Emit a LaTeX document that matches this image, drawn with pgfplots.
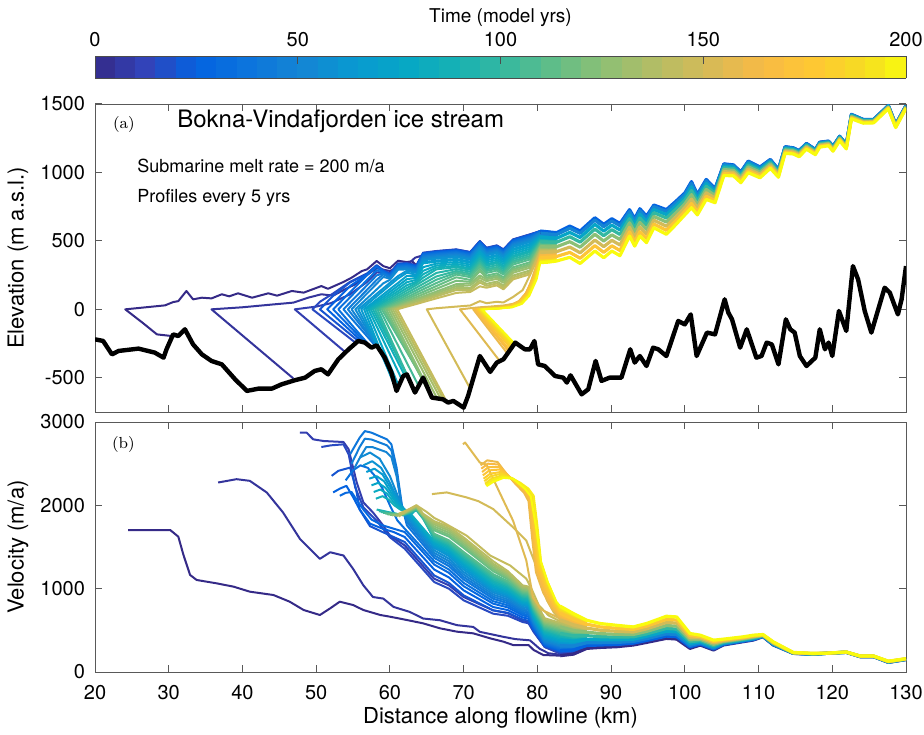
\documentclass[border=0pt]{standalone}
\usepackage{fontspec}
\setsansfont{TeX Gyre Heros}
\renewcommand{\familydefault}{\sfdefault}
\usepackage{pgfplots}
\usepackage{pgfplotstable}
\pgfplotsset{compat=1.18}
\pgfplotsset{colormap={mparula}{rgb(0pt)=(0.2081,0.1663,0.5292) rgb(4pt)=(0.1959,0.2645,0.7279) rgb(8pt)=(0.0117,0.3875,0.8820) rgb(12pt)=(0.0498,0.4586,0.8641) rgb(16pt)=(0.0793,0.5200,0.8312) rgb(20pt)=(0.0343,0.5966,0.8199) rgb(24pt)=(0.0228,0.6535,0.7768) rgb(28pt)=(0.0843,0.6928,0.7062) rgb(32pt)=(0.2178,0.7250,0.6193) rgb(36pt)=(0.3953,0.7459,0.5244) rgb(40pt)=(0.5709,0.7485,0.4494) rgb(44pt)=(0.7184,0.7411,0.3905) rgb(48pt)=(0.8507,0.7299,0.3360) rgb(52pt)=(0.9739,0.7314,0.2666) rgb(56pt)=(0.9955,0.7861,0.1967) rgb(60pt)=(0.9626,0.8705,0.1309) rgb(63pt)=(0.9763,0.9831,0.0538)}}
\newcommand{\pe}[2]{\addplot[color of colormap={#1}, line width=1pt, line join=round] coordinates {#2};}
\newcommand{\pb}[2]{\addplot[color of colormap={#1}, line width=1.6pt, line join=round] table[x=x,y=#2]}

\pgfplotstableread{
x a0 a25 a50 a75 a100 a125 a150 a175 a200
80.4 560 572 556 526 493 457 417 378 341
81.5 555 566 551 522 491 456 418 380 345
82.6 550 560 546 519 490 457 421 386 353
84.4 597 608 592 562 530 494 455 416 380
85.8 560 572 555 525 491 454 413 373 335
87.8 657 669 652 620 586 548 506 465 426
89.0 609 621 604 572 538 499 458 416 377
90.1 650 662 645 615 582 544 504 464 426
91.2 615 627 611 580 547 510 470 430 392
92.5 718 728 714 689 662 632 599 566 535
93.2 653 663 649 623 595 563 528 494 462
93.9 725 735 721 695 667 635 601 567 535
94.8 671 681 667 642 615 584 551 518 487
95.8 754 762 750 729 706 679 651 623 596
97.5 719 728 715 692 667 638 607 577 548
98.8 782 790 778 756 732 705 676 647 620
100.0 842 850 839 818 796 770 743 716 690
100.9 923 933 920 895 868 838 805 773 742
101.7 833 840 830 810 789 765 740 714 690
102.9 942 949 939 920 899 876 851 826 803
104.1 877 882 875 861 847 831 813 795 779
105.3 1059 1063 1057 1046 1034 1021 1006 992 978
106.6 1051 1055 1049 1039 1028 1015 1001 988 975
107.6 1000 1004 998 988 977 965 951 938 925
108.6 1079 1083 1077 1066 1054 1041 1026 1012 998
110.2 1036 1040 1034 1024 1013 1001 987 974 961
111.6 1092 1095 1090 1082 1073 1063 1051 1040 1030
112.7 1019 1022 1018 1011 1003 994 984 974 965
113.6 1186 1188 1185 1178 1172 1164 1156 1148 1140
114.7 1178 1180 1177 1171 1165 1158 1150 1142 1135
115.5 1158 1160 1157 1151 1145 1138 1130 1122 1115
116.5 1210 1212 1209 1204 1198 1191 1184 1177 1170
117.7 1166 1168 1165 1160 1155 1149 1143 1136 1130
118.3 1219 1221 1218 1214 1209 1203 1197 1191 1185
119.5 1227 1229 1227 1222 1217 1212 1206 1200 1195
120.1 1190 1192 1189 1185 1179 1174 1167 1161 1155
121.0 1263 1265 1263 1258 1254 1249 1243 1237 1232
121.9 1203 1205 1203 1198 1194 1189 1183 1177 1172
122.6 1422 1424 1422 1418 1413 1408 1403 1397 1392
124.2 1386 1387 1385 1382 1378 1374 1369 1364 1360
125.6 1386 1387 1385 1382 1379 1375 1370 1366 1362
127.6 1488 1489 1487 1484 1481 1477 1473 1469 1465
128.6 1350 1351 1349 1346 1343 1340 1336 1332 1328
130.0 1488 1489 1488 1485 1482 1479 1475 1471 1468
}\elevband

\pgfplotstableread{
x v0 v25 v50 v75 v100 v125 v150 v175 v200
83.1 196 255 315 386 463 541 624 707 790
84.9 215 264 312 371 434 497 565 633 701
86.7 284 318 351 392 436 479 527 574 621
88.5 295 324 352 387 424 461 502 542 582
90.8 304 330 355 386 419 452 488 524 560
93.0 324 346 367 393 422 450 480 511 541
94.8 355 378 400 428 457 487 518 550 582
97.5 404 431 457 489 523 558 595 632 669
98.9 396 423 449 481 515 550 587 624 661
100.7 284 302 320 341 364 387 412 437 462
102.1 324 336 348 362 377 392 409 425 442
103.9 264 276 288 302 317 332 349 365 382
105.2 324 331 338 346 356 365 374 384 394
107.9 364 370 376 383 390 398 406 414 422
109.3 384 390 396 403 410 418 426 434 442
110.6 424 427 429 432 436 439 443 446 450
112.0 324 328 332 336 341 346 351 357 362
114.7 224 225 226 228 229 230 232 233 235
117.4 212 213 214 216 217 219 221 222 224
119.2 224 224 224 225 225 225 225 226 226
121.9 236 236 237 237 238 238 239 239 240
123.8 184 185 186 187 188 189 190 191 192
125.6 184 185 186 187 188 189 190 191 192
127.6 116 117 119 120 122 124 126 128 130
130.0 150 151 152 153 155 156 157 159 160
}\velband

\pgfplotsset{myax/.style={scale only axis, width=405.5pt, xmin=20, xmax=130,
  xtick={20,30,...,130}, tick align=inside, major tick length=3.5pt,
  axis line style={black!65}, every tick/.style={black!65, line width=0.5pt},
  tick label style={font=\fontsize{10}{12}\selectfont},
  label style={font=\fontsize{11}{13}\selectfont},
  /pgf/number format/assume math mode=true, /pgf/number format/1000 sep={},
  yticklabel style={xshift=-1.5pt},
  clip=true}}

\begin{document}
\begin{tikzpicture}
\path[use as bounding box] (0pt,0pt) rectangle (462pt,367pt);
%================ panel (a) =================
\begin{axis}[myax, at={(47.5pt,161pt)}, anchor=south west, height=154pt,
  ymin=-750, ymax=1500, ytick={-500,0,500,1000,1500}, xticklabels=\empty,
  colorbar sampled, colorbar horizontal, point meta min=0, point meta max=200,
  colorbar style={samples=41, at={(parent axis.north west)}, anchor=south west, yshift=21.5pt,
    width=405.5pt, height=11pt, scale only axis,
    xtick={0,50,100,150,200}, xticklabels={0,50,100,150,200}, ytick=\empty,
    xticklabel pos=right, xtick pos=right, tick align=inside, major tick length=4pt,
    axis line style={black!70}, every tick/.style={black!70},
    tick label style={font=\fontsize{10}{12}\selectfont},
    xticklabel style={yshift=1pt},
    xlabel={Time (model yrs)}, ylabel={},
    xlabel style={at={(axis description cs:0.5,1)}, anchor=center, yshift=19pt, font=\fontsize{9.5}{11}\selectfont}}
]
\pe{0}{(30.4,-195) (28.4,-183) (26.5,-100) (24.1,0) (29.5,29) (30.6,53) (31.3,60) (32.4,134) (33.3,73) (34.5,85) (35.8,80) (37.2,110) (38.2,95) (39.4,117) (41.3,85) (43.5,117) (44.7,100) (46.7,134) (48.3,122) (50.7,170) (51.6,150) (53.7,200) (54.8,231) (56.2,280) (56.9,292) (58.2,353) (59.1,316) (60.0,300) (61.1,355) (62.3,345) (63.0,352) (63.6,320) (64.5,402) (66.3,414) (69.0,426) (70.9,407) (72.2,487) (73.1,438) (74.5,455) (75.4,426) (76.7,499) (79.0,536) (80.4,560) (81.5,555) (82.6,550)}
\pe{25}{(46.9,-505) (35.8,0) (40.0,15) (44.0,35) (46.9,49) (48.9,85) (50.7,110) (52.3,100) (53.9,146) (55.3,183) (56.9,251) (58.2,300) (59.1,290) (60.0,280) (61.4,316) (62.3,320) (63.4,377) (64.5,395) (66.3,419) (69.0,431) (70.9,412) (72.2,492) (73.1,443) (74.5,460) (75.4,431) (76.7,504) (79.0,541) (80.4,565) (81.5,559) (82.6,554)}
\pe{50}{(54.0,-315) (47.1,0) (50.0,20) (52.0,45) (54.6,110) (56.9,200) (58.2,270) (59.1,265) (60.0,260) (61.1,330) (62.3,335) (63.6,320) (64.5,400) (66.3,424) (69.0,436) (70.9,417) (72.2,497) (73.1,448) (74.5,465) (75.4,436) (76.7,509) (79.0,546) (80.4,570) (81.5,564) (82.6,558)}
\pe{75}{(55.2,-238) (49.5,0) (50.5,55) (52.3,116) (54.6,201) (56.9,262) (58.2,323) (59.1,286) (60.0,262) (61.1,335) (62.3,338) (63.6,322) (64.5,414) (66.3,426) (69.0,438) (70.9,419) (72.2,499) (73.1,450) (74.5,467) (75.4,438) (76.7,511) (79.0,548) (80.4,572) (81.5,566) (82.6,560)}
\pe{100}{(55.7,-231) (50.5,0) (52.3,99) (54.6,197) (56.9,258) (58.2,319) (59.1,282) (60.0,258) (61.1,331) (62.3,334) (63.6,318) (64.5,410) (66.3,422) (69.0,434) (70.9,415) (72.2,495) (73.1,446) (74.5,463) (75.4,434) (76.7,507) (79.0,544) (80.4,572) (81.5,566) (82.6,560)}
\pe{125}{(56.3,-240) (51.5,0) (52.3,44) (54.6,170) (56.9,254) (58.2,315) (59.1,278) (60.0,254) (61.1,327) (62.3,330) (63.6,314) (64.5,406) (66.3,418) (69.0,430) (70.9,411) (72.2,491) (73.1,442) (74.5,459) (75.4,430) (76.7,503) (79.0,540) (80.4,572) (81.5,566) (82.6,560)}
\pe{150}{(56.8,-250) (52.3,0) (54.6,126) (56.9,250) (58.2,311) (59.1,274) (60.0,250) (61.1,323) (62.3,326) (63.6,310) (64.5,402) (66.3,414) (69.0,426) (70.9,407) (72.2,487) (73.1,438) (74.5,455) (75.4,426) (76.7,499) (79.0,536) (80.4,570) (81.5,564) (82.6,558)}
\pe{175}{(57.4,-275) (53.0,0) (54.6,88) (56.9,214) (58.2,286) (59.1,268) (60.0,244) (61.1,317) (62.3,320) (63.6,304) (64.5,396) (66.3,408) (69.0,420) (70.9,401) (72.2,481) (73.1,432) (74.5,449) (75.4,420) (76.7,493) (79.0,530) (80.4,565) (81.5,559) (82.6,554)}
\pe{200}{(58.0,-265) (53.7,0) (54.6,50) (56.9,176) (58.2,248) (59.1,262) (60.0,238) (61.1,311) (62.3,314) (63.6,298) (64.5,390) (66.3,402) (69.0,414) (70.9,395) (72.2,475) (73.1,426) (74.5,443) (75.4,414) (76.7,487) (79.0,524) (80.4,563) (81.5,557) (82.6,552)}
\pe{225}{(58.6,-290) (54.3,0) (54.6,17) (56.9,143) (58.2,215) (59.1,256) (60.0,232) (61.1,305) (62.3,308) (63.6,292) (64.5,384) (66.3,396) (69.0,408) (70.9,389) (72.2,469) (73.1,420) (74.5,437) (75.4,408) (76.7,481) (79.0,518) (80.4,559) (81.5,554) (82.6,549)}
\pe{250}{(59.3,-353) (54.8,0) (56.9,116) (58.2,187) (59.1,237) (60.0,224) (61.1,297) (62.3,300) (63.6,284) (64.5,376) (66.3,388) (69.0,400) (70.9,381) (72.2,461) (73.1,412) (74.5,429) (75.4,400) (76.7,473) (79.0,510) (80.4,556) (81.5,551) (82.6,546)}
\pe{275}{(59.8,-410) (55.3,0) (56.9,80) (58.2,145) (59.1,190) (60.0,216) (61.1,289) (62.3,292) (63.6,276) (64.5,368) (66.3,380) (69.0,392) (70.9,373) (72.2,453) (73.1,404) (74.5,421) (75.4,392) (76.7,465) (79.0,502) (80.4,549) (81.5,544) (82.6,539)}
\pe{300}{(60.2,-462) (55.7,0) (56.9,54) (58.2,113) (59.1,153) (60.0,194) (61.1,243) (62.3,282) (63.6,266) (64.5,358) (66.3,370) (69.0,382) (70.9,363) (72.2,443) (73.1,394) (74.5,411) (75.4,382) (76.7,455) (79.0,492) (80.4,544) (81.5,539) (82.6,535)}
\pe{325}{(60.6,-540) (56.1,0) (56.9,36) (58.2,95) (59.1,135) (60.0,176) (61.1,225) (62.3,268) (63.6,252) (64.5,344) (66.3,356) (69.0,368) (70.9,349) (72.2,429) (73.1,380) (74.5,397) (75.4,368) (76.7,441) (79.0,478) (80.4,537) (81.5,533) (82.6,529)}
\pe{350}{(60.9,-596) (56.5,0) (58.2,71) (59.1,109) (60.0,147) (61.1,193) (62.3,244) (63.6,244) (64.5,336) (66.3,348) (69.0,360) (70.9,341) (72.2,421) (73.1,372) (74.5,389) (75.4,360) (76.7,433) (79.0,470) (80.4,533) (81.5,528) (82.6,525)}
\pe{375}{(61.2,-560) (56.8,0) (58.2,56) (59.1,92) (60.0,128) (61.1,172) (62.3,220) (63.6,230) (64.5,308) (66.3,334) (69.0,346) (70.9,327) (72.2,407) (73.1,358) (74.5,375) (75.4,346) (76.7,419) (79.0,456) (80.4,526) (81.5,522) (82.6,519)}
\pe{400}{(61.6,-510) (57.1,0) (58.2,42) (59.1,76) (60.0,110) (61.1,152) (62.3,198) (63.6,216) (64.5,281) (66.3,320) (69.0,332) (70.9,313) (72.2,393) (73.1,344) (74.5,361) (75.4,332) (76.7,405) (79.0,442) (80.4,519) (81.5,515) (82.6,512)}
\pe{425}{(62.0,-482) (57.4,0) (58.2,29) (59.1,61) (60.0,94) (61.1,133) (62.3,176) (63.6,202) (64.5,256) (66.3,306) (69.0,318) (70.9,299) (72.2,379) (73.1,330) (74.5,347) (75.4,318) (76.7,391) (79.0,428) (80.4,512) (81.5,509) (82.6,506)}
\pe{450}{(62.5,-500) (57.7,0) (58.2,17) (59.1,48) (60.0,78) (61.1,116) (62.3,156) (63.6,192) (64.5,231) (66.3,292) (69.0,308) (70.9,289) (72.2,369) (73.1,320) (74.5,337) (75.4,308) (76.7,381) (79.0,418) (80.4,507) (81.5,504) (82.6,502)}
\pe{475}{(63.0,-560) (58.0,0) (59.1,35) (60.0,64) (61.1,99) (62.3,138) (63.6,178) (64.5,208) (66.3,266) (69.0,294) (70.9,275) (72.2,355) (73.1,306) (74.5,323) (75.4,294) (76.7,367) (79.0,404) (80.4,500) (81.5,497) (82.6,496)}
\pe{500}{(63.4,-608) (58.3,0) (59.1,24) (60.0,51) (61.1,84) (62.3,120) (63.6,159) (64.5,186) (66.3,240) (69.0,280) (70.9,261) (72.2,341) (73.1,292) (74.5,309) (75.4,280) (76.7,353) (79.0,390) (80.4,493) (81.5,491) (82.6,490)}
\pe{525}{(63.9,-560) (58.6,0) (59.1,14) (60.0,39) (61.1,70) (62.3,104) (63.6,140) (64.5,165) (66.3,216) (69.0,268) (70.9,249) (72.2,329) (73.1,280) (74.5,297) (75.4,268) (76.7,341) (79.0,378) (80.4,487) (81.5,484) (82.6,483)}
\pe{550}{(64.4,-505) (58.9,0) (60.0,29) (61.1,57) (62.3,88) (63.6,122) (64.5,146) (66.3,192) (69.0,254) (70.9,235) (72.2,315) (73.1,266) (74.5,283) (75.4,254) (76.7,327) (79.0,364) (80.4,480) (81.5,478) (82.6,477)}
\pe{575}{(64.9,-560) (59.2,0) (60.0,19) (61.1,46) (62.3,74) (63.6,106) (64.5,127) (66.3,170) (69.0,234) (70.9,215) (72.2,295) (73.1,246) (74.5,263) (75.4,234) (76.7,307) (79.0,344) (80.4,470) (81.5,469) (82.6,469)}
\pe{600}{(65.4,-620) (59.5,0) (60.0,11) (61.1,35) (62.3,62) (63.6,90) (64.5,110) (66.3,150) (69.0,209) (70.9,201) (72.2,279) (73.1,232) (74.5,249) (75.4,220) (76.7,293) (79.0,330) (80.4,463) (81.5,462) (82.6,463)}
\pe{625}{(65.8,-645) (59.8,0) (61.1,26) (62.3,50) (63.6,76) (64.5,94) (66.3,130) (69.0,184) (70.9,189) (72.2,248) (73.1,220) (74.5,237) (75.4,208) (76.7,281) (79.0,318) (80.4,457) (81.5,456) (82.6,457)}
\pe{650}{(66.4,-650) (60.1,0) (61.1,19) (62.3,42) (63.6,67) (64.5,84) (66.3,118) (69.0,169) (70.9,175) (72.2,230) (73.1,206) (74.5,223) (75.4,194) (76.7,267) (79.0,304) (80.4,450) (81.5,449) (82.6,450)}
\pe{675}{(66.9,-655) (60.4,0) (61.1,13) (62.3,34) (63.6,58) (64.5,74) (66.3,106) (69.0,155) (70.9,155) (72.2,212) (73.1,186) (74.5,203) (75.4,174) (76.7,247) (79.0,284) (80.4,440) (81.5,440) (82.6,442)}
\pe{700}{(67.3,-660) (60.7,0) (62.3,27) (63.6,44) (64.5,65) (66.3,95) (69.0,141) (70.9,141) (72.2,196) (73.1,172) (74.5,189) (75.4,160) (76.7,233) (79.0,270) (80.4,433) (81.5,433) (82.6,436)}
\pe{725}{(67.7,-675) (61.0,0) (62.3,20) (63.6,39) (64.5,53) (66.3,80) (69.0,120) (70.9,127) (72.2,168) (73.1,158) (74.5,175) (75.4,146) (76.7,219) (79.0,256) (80.4,426) (81.5,427) (82.6,430)}
\pe{750}{(70.9,-580) (65.0,0) (66.3,8) (69.0,20) (70.9,28) (72.2,60) (73.1,45) (74.5,55) (75.4,50) (76.7,90) (78.0,140) (79.0,250) (80.4,417) (81.5,418) (82.6,421)}
\pe{775}{(74.9,-378) (69.5,0) (70.9,8) (72.2,15) (73.1,18) (74.5,24) (75.4,28) (76.7,40) (78.0,70) (79.0,180) (80.4,410) (81.5,411) (82.6,415)}
\pe{800}{(75.9,-320) (71.3,0) (72.5,4) (74.5,10) (76.3,25) (77.5,60) (78.5,122) (79.5,243) (80.4,401) (81.5,402) (82.6,407)}
\pe{825}{(76.1,-305) (71.5,0) (72.7,4) (74.5,10) (76.3,24) (77.5,57) (78.5,118) (79.5,240) (80.4,394) (81.5,396) (82.6,401)}
\pe{850}{(76.2,-296) (71.7,0) (72.9,4) (74.5,9) (76.3,22) (77.6,55) (78.6,116) (79.6,238) (80.4,385) (81.5,387) (82.6,392)}
\pe{875}{(76.4,-284) (71.9,0) (73.0,4) (74.6,9) (76.3,21) (77.6,52) (78.6,112) (79.6,234) (80.4,378) (81.5,380) (82.6,386)}
\pe{900}{(76.5,-278) (72.0,0) (73.1,4) (74.6,8) (76.4,20) (77.7,50) (78.7,110) (79.7,232) (80.4,371) (81.5,374) (82.6,380)}
\pe{925}{(76.6,-270) (72.1,0) (73.2,3) (74.7,8) (76.4,18) (77.7,48) (78.7,106) (79.7,228) (80.4,364) (81.5,367) (82.6,374)}
\pe{950}{(76.7,-262) (72.2,0) (73.3,3) (74.7,7) (76.5,17) (77.8,45) (78.8,104) (79.8,226) (80.4,355) (81.5,358) (82.6,365)}
\pe{975}{(76.8,-255) (72.35,0) (73.4,3) (74.8,7) (76.5,16) (77.8,43) (78.8,100) (79.8,222) (80.4,348) (81.5,352) (82.6,359)}
\pe{1000}{(76.9,-250) (72.5,0) (73.5,3) (74.8,6) (76.6,15) (77.9,40) (78.9,98) (79.9,220) (80.4,341) (81.5,345) (82.6,353)}
\pb{0}{a0}{\elevband};
\pb{125}{a25}{\elevband};
\pb{250}{a50}{\elevband};
\pb{375}{a75}{\elevband};
\pb{500}{a100}{\elevband};
\pb{625}{a125}{\elevband};
\pb{750}{a150}{\elevband};
\pb{875}{a175}{\elevband};
\pb{1000}{a200}{\elevband};
\addplot[black, line width=2.2pt, line join=round] coordinates {(20.0,-219) (21.1,-231) (22.3,-329) (23.2,-304) (25.9,-287) (28.1,-316) (29.3,-353) (29.7,-292) (30.6,-183) (31.3,-195) (32.2,-146) (33.3,-256) (34.5,-329) (35.8,-377) (37.2,-402) (39.0,-511) (40.6,-596) (42.2,-579) (44.0,-579) (45.3,-548) (47.1,-518) (48.5,-499) (49.8,-450) (50.7,-438) (51.6,-475) (53.0,-365) (54.4,-292) (55.7,-231) (56.6,-243) (57.5,-280) (58.2,-263) (59.3,-353) (60.2,-462) (60.9,-596) (61.8,-487) (62.3,-475) (63.4,-608) (64.5,-499) (65.7,-645) (67.2,-657) (67.9,-681) (68.6,-669) (70.0,-718) (70.6,-633) (72.2,-341) (73.6,-457) (74.5,-389) (75.4,-365) (77.0,-243) (78.3,-292) (79.0,-292) (79.6,-231) (80.1,-402) (81.0,-414) (82.4,-487) (83.5,-499) (84.0,-535) (84.5,-482) (86.0,-621) (86.9,-584) (87.9,-377) (88.7,-523) (89.8,-499) (91.4,-499) (92.6,-292) (93.2,-389) (93.9,-341) (94.8,-414) (95.7,-280) (96.4,-292) (97.5,-341) (99.1,-85) (100.0,-110) (100.8,-37) (101.6,-341) (103.0,-170) (104.1,-183) (105.4,73) (105.9,-24) (106.4,-73) (107.5,-280) (108.4,-146) (109.7,-353) (110.4,-341) (111.1,-243) (111.8,-256) (112.7,-402) (113.7,-73) (114.3,-146) (114.9,-170) (115.6,-341) (116.5,-414) (117.7,-353) (118.3,-146) (119.0,-292) (119.5,-243) (120.0,-341) (120.9,-12) (121.9,-158) (122.8,316) (123.5,219) (124.4,-12) (125.3,-170) (127.1,158) (127.8,122) (128.9,-37) (129.4,73) (130.0,316)};
\node[anchor=base west, inner sep=0pt, font=\rmfamily\fontsize{8}{10}\selectfont] at (rel axis cs:0.0218,0.919) {(a)};
\node[anchor=base west, inner sep=0pt, font=\fontsize{12}{14}\selectfont] at (rel axis cs:0.101,0.925) {Bokna-Vindafjorden ice stream};
\node[anchor=base west, inner sep=0pt, font=\fontsize{9}{11}\selectfont] at (rel axis cs:0.0518,0.779) {Submarine melt rate = 200 m/a};
\node[anchor=base west, inner sep=0pt, font=\fontsize{9}{11}\selectfont] at (rel axis cs:0.0518,0.679) {Profiles every 5 yrs};
\end{axis}
%================ panel (b) =================
\begin{axis}[myax, at={(47.5pt,31pt)}, anchor=south west, height=125pt,
  ymin=0, ymax=3000, ytick={0,1000,2000,3000},
  xticklabel style={yshift=-3pt},
  xlabel={Distance along flowline (km)},
  xlabel style={at={(axis description cs:0.5,0)}, anchor=center, yshift=-23pt}
]
\pe{0}{(24.5,1704) (30.2,1704) (31.3,1624) (32.0,1404) (32.9,1164) (33.8,1104) (36.5,1064) (38.8,1024) (41.0,964) (44.2,924) (46.4,844) (48.3,744) (50.5,684) (51.9,764) (53.2,844) (55.0,804) (56.4,744) (58.7,684) (60.0,664) (62.3,624) (64.5,584) (66.8,524) (69.1,484) (71.3,464) (73.6,404) (75.4,364) (76.7,324) (78.8,324) (79.5,264) (80.8,204) (83.1,196) (84.9,215) (86.7,284)}
\pe{25}{(36.7,2274) (39.2,2314) (41.0,2294) (43.3,2154) (45.5,1915) (47.8,1597) (50.5,1358) (51.9,1437) (53.7,1398) (55.0,1239) (56.4,1040) (57.7,900) (59.1,881) (60.5,781) (62.7,721) (64.5,642) (66.8,621) (69.1,562) (71.3,541) (72.2,482) (75.4,422) (77.0,395) (79.0,380) (80.3,280) (81.5,225) (83.1,208) (84.9,225) (86.7,291)}
\pe{50}{(47.8,2872) (48.7,2872) (49.6,2792) (51.0,2772) (53.7,2760) (54.4,2673) (55.5,2274) (56.4,2035) (57.7,1915) (59.1,1757) (60.0,1637) (62.0,1520) (66.0,1120) (68.0,1040) (70.0,900) (74.0,740) (76.0,705) (78.0,620) (78.8,605) (79.5,500) (81.0,300) (83.1,220) (84.9,234) (86.7,297)}
\pe{75}{(50.7,2700) (52.0,2720) (53.7,2732) (54.4,2613) (55.3,2214) (56.4,1975) (58.2,1816) (60.0,1617) (62.0,1480) (66.0,1080) (68.0,1000) (70.0,860) (74.0,700) (76.0,675) (78.0,600) (78.8,585) (79.5,480) (81.0,300) (83.1,232) (84.9,244) (86.7,304)}
\pe{100}{(52.1,2354) (53.0,2414) (54.6,2453) (55.4,2200) (55.9,1950) (57.3,1750) (59.0,1680) (60.5,1620) (62.0,1560) (66.0,1160) (68.0,1070) (70.0,920) (74.0,740) (76.0,710) (78.0,630) (78.8,615) (79.5,500) (81.0,310) (83.1,244) (84.9,254) (86.7,311)}
\pe{125}{(52.3,2155) (53.2,2200) (54.1,2234) (55.0,2100) (55.9,1950) (57.3,1780) (59.0,1720) (60.5,1680) (62.0,1620) (66.0,1230) (68.0,1135) (70.0,980) (74.0,780) (76.0,743) (78.0,655) (78.8,640) (79.5,520) (81.0,320) (83.1,255) (84.9,264) (86.7,318)}
\pe{150}{(53.2,2115) (54.0,2150) (54.8,2160) (55.6,2050) (56.4,1950) (57.5,1830) (59.0,1760) (60.5,1720) (62.0,1680) (66.0,1290) (68.0,1190) (70.0,1030) (74.0,820) (76.0,775) (78.0,680) (78.8,665) (79.5,535) (81.0,330) (83.1,267) (84.9,273) (86.7,324)}
\pe{175}{(54.0,2300) (55.0,2420) (56.0,2480) (57.0,2450) (58.0,2350) (59.0,2200) (60.0,2000) (61.0,1820) (62.0,1720) (66.0,1330) (68.0,1230) (70.0,1070) (74.0,850) (76.0,800) (78.0,700) (78.8,685) (79.5,550) (81.0,340) (83.1,279) (84.9,283) (86.7,331)}
\pe{200}{(54.6,2613) (55.9,2812) (56.6,2891) (57.5,2872) (59.6,2792) (60.2,2732) (60.9,2453) (61.6,2015) (62.3,1760) (66.0,1370) (68.0,1270) (70.0,1110) (74.0,880) (76.0,825) (78.0,720) (78.8,705) (79.5,565) (81.0,350) (83.1,291) (84.9,293) (86.7,338)}
\pe{225}{(54.8,2500) (55.9,2700) (56.6,2800) (57.5,2790) (59.6,2720) (60.2,2660) (60.9,2400) (61.6,2000) (62.3,1800) (66.0,1400) (68.0,1300) (70.0,1140) (74.0,905) (76.0,848) (78.0,740) (78.8,725) (79.5,580) (81.0,360) (83.1,303) (84.9,302) (86.7,345)}
\pe{250}{(55.2,2450) (56.1,2600) (56.8,2700) (57.6,2700) (59.5,2640) (60.2,2580) (60.9,2350) (61.6,1980) (62.3,1830) (66.0,1430) (68.0,1330) (70.0,1170) (74.0,930) (76.0,870) (78.0,760) (78.8,745) (79.5,595) (81.0,370) (83.1,315) (84.9,312) (86.7,351)}
\pe{275}{(55.9,2573) (57.3,2633) (58.6,2560) (60.0,2350) (60.9,2150) (61.6,1990) (62.3,1860) (66.0,1460) (68.0,1360) (70.0,1200) (74.0,955) (76.0,893) (78.0,780) (78.8,765) (79.5,610) (81.0,385) (83.1,329) (84.9,324) (86.7,359)}
\pe{300}{(56.4,2480) (57.6,2530) (58.8,2450) (60.0,2270) (60.9,2100) (61.6,1990) (62.3,1880) (66.0,1490) (68.0,1390) (70.0,1230) (74.0,975) (76.0,913) (78.0,800) (78.8,785) (79.5,625) (81.0,400) (83.1,343) (84.9,336) (86.7,368)}
\pe{325}{(56.8,2400) (57.9,2440) (59.0,2370) (60.1,2210) (61.0,2060) (61.8,1970) (62.5,1890) (66.0,1510) (68.0,1413) (70.0,1255) (74.0,995) (76.0,930) (78.0,815) (78.8,800) (79.5,640) (81.0,415) (83.1,358) (84.9,347) (86.7,376)}
\pe{350}{(57.2,2320) (58.2,2350) (59.2,2290) (60.2,2150) (61.1,2020) (61.9,1960) (62.6,1900) (66.0,1530) (68.0,1435) (70.0,1280) (74.0,1015) (76.0,948) (78.0,830) (78.8,815) (79.5,655) (81.0,430) (83.1,372) (84.9,359) (86.7,384)}
\pe{375}{(57.5,2240) (58.4,2270) (59.4,2210) (60.3,2100) (61.2,1990) (62.0,1950) (62.7,1900) (66.0,1550) (68.0,1455) (70.0,1300) (74.0,1035) (76.0,965) (78.0,845) (78.8,830) (79.5,670) (81.0,445) (83.1,386) (84.9,371) (86.7,392)}
\pe{400}{(57.8,2160) (58.7,2190) (59.6,2140) (60.4,2050) (61.3,1970) (62.1,1930) (62.8,1900) (66.0,1570) (68.0,1475) (70.0,1320) (74.0,1055) (76.0,983) (78.0,860) (78.8,845) (79.5,685) (81.0,460) (83.1,402) (84.9,383) (86.7,401)}
\pe{425}{(58.1,2080) (59.0,2110) (59.8,2070) (60.6,2000) (61.4,1950) (62.2,1920) (63.0,1900) (63.6,1960) (64.5,1870) (66.0,1585) (68.0,1493) (70.0,1340) (74.0,1075) (76.0,1000) (78.0,875) (78.8,860) (79.5,700) (81.0,475) (83.1,417) (84.9,396) (86.7,409)}
\pe{450}{(58.2,1950) (61.8,1880) (62.8,1910) (63.6,1940) (64.5,1840) (66.0,1600) (68.0,1510) (70.0,1360) (74.0,1095) (76.0,1018) (78.0,890) (78.8,875) (79.5,715) (81.0,490) (83.1,432) (84.9,408) (86.7,418)}
\pe{475}{(58.5,1930) (61.8,1885) (62.8,1915) (63.6,1950) (64.5,1845) (66.0,1615) (68.0,1528) (70.0,1380) (74.0,1115) (76.0,1035) (78.0,905) (78.8,890) (79.5,730) (81.0,505) (83.1,448) (84.9,421) (86.7,427)}
\pe{500}{(58.8,1920) (61.8,1885) (62.8,1920) (63.6,1955) (64.5,1850) (66.0,1630) (68.0,1545) (70.0,1400) (74.0,1135) (76.0,1053) (78.0,920) (78.8,905) (79.5,745) (81.0,520) (83.1,463) (84.9,434) (86.7,436)}
\pe{525}{(59.1,1910) (61.8,1890) (62.8,1925) (63.6,1960) (64.5,1855) (66.0,1645) (68.0,1563) (70.0,1420) (74.0,1155) (76.0,1070) (78.0,935) (78.8,920) (79.5,760) (81.0,535) (83.1,479) (84.9,446) (86.7,444)}
\pe{550}{(59.4,1900) (61.8,1890) (62.8,1930) (63.6,1965) (64.5,1860) (66.0,1660) (68.0,1580) (70.0,1440) (74.0,1175) (76.0,1088) (78.0,950) (78.8,935) (79.5,775) (81.0,550) (83.1,494) (84.9,459) (86.7,453)}
\pe{575}{(59.7,1890) (61.8,1895) (62.8,1935) (63.6,1970) (64.5,1870) (66.0,1700) (68.0,1625) (70.0,1490) (74.0,1210) (76.0,1113) (78.0,965) (78.8,950) (79.5,790) (81.0,565) (83.1,510) (84.9,472) (86.7,462)}
\pe{600}{(60.0,1885) (61.8,1895) (62.8,1940) (63.6,1975) (64.5,1875) (66.0,1720) (68.0,1648) (70.0,1515) (74.0,1235) (76.0,1133) (78.0,980) (78.8,965) (79.5,805) (81.0,580) (83.1,525) (84.9,484) (86.7,471)}
\pe{625}{(60.3,1880) (61.8,1900) (62.8,1945) (63.6,1980) (64.5,1880) (66.0,1745) (68.0,1673) (70.0,1540) (74.0,1255) (76.0,1150) (78.0,995) (78.8,980) (79.5,820) (81.0,595) (83.1,541) (84.9,497) (86.7,479)}
\pe{650}{(60.6,1875) (61.8,1900) (62.8,1950) (63.6,1985) (64.5,1885) (66.0,1770) (68.0,1698) (70.0,1565) (74.0,1280) (76.0,1170) (78.0,1010) (78.8,995) (79.5,835) (81.0,610) (83.1,557) (84.9,510) (86.7,489)}
\pe{675}{(60.9,1870) (61.8,1905) (62.8,1955) (63.6,1990) (64.5,1890) (66.0,1790) (68.0,1720) (70.0,1590) (74.0,1300) (76.0,1188) (78.0,1025) (78.8,1010) (79.5,850) (81.0,625) (83.1,574) (84.9,524) (86.7,498)}
\pe{700}{(61.2,1865) (61.8,1905) (62.8,1960) (63.6,2000) (64.5,1900) (66.0,1810) (68.0,1743) (70.0,1615) (74.0,1330) (76.0,1210) (78.0,1040) (78.8,1025) (79.5,870) (81.0,645) (83.1,590) (84.9,538) (86.7,508)}
\pe{725}{(61.2,1900) (62.5,1950) (63.6,2000) (65.0,1920) (66.0,1850) (67.2,1796) (70.4,1637) (73.6,1398) (76.3,1279) (78.5,1120) (79.2,1000) (80.2,800) (81.5,680) (83.1,607) (84.9,551) (86.7,517)}
\pe{750}{(65.7,2135) (67.7,2155) (70.4,2095) (72.0,2050) (74.0,1956) (76.7,1737) (78.5,1577) (79.9,1258) (81.3,860) (82.2,720) (83.1,624) (84.9,565) (86.7,527)}
\pe{775}{(69.9,2733) (70.2,2753) (72.2,2513) (73.1,2490) (74.9,2150) (76.7,1816) (78.5,1338) (79.4,900) (80.5,750) (83.1,640) (84.9,579) (86.7,536)}
\pe{800}{(72.3,2480) (73.2,2540) (74.6,2520) (75.8,2380) (77.0,2260) (78.2,2150) (78.8,2050) (79.3,1600) (79.8,1200) (80.8,950) (82.0,760) (83.1,657) (84.9,592) (86.7,546)}
\pe{825}{(72.4,2440) (73.3,2500) (74.7,2490) (75.9,2370) (77.1,2260) (78.3,2160) (78.9,2070) (79.4,1640) (79.9,1240) (80.9,980) (82.1,780) (83.1,674) (84.9,606) (86.7,555)}
\pe{850}{(72.5,2400) (73.4,2460) (74.8,2460) (76.0,2360) (77.2,2260) (78.4,2170) (79.0,2080) (79.5,1680) (80.0,1270) (81.0,1010) (82.2,800) (83.1,690) (84.9,619) (86.7,564)}
\pe{875}{(72.6,2360) (73.5,2420) (74.9,2430) (76.1,2350) (77.3,2260) (78.5,2180) (79.1,2090) (79.6,1710) (80.1,1290) (81.1,1030) (82.3,810) (83.1,707) (84.9,633) (86.7,574)}
\pe{900}{(72.7,2320) (73.6,2380) (75.0,2400) (76.2,2340) (77.4,2260) (78.5,2185) (79.2,2100) (79.7,1740) (80.2,1300) (81.2,1050) (82.4,815) (83.1,723) (84.9,647) (86.7,583)}
\pe{925}{(72.8,2290) (73.7,2350) (75.1,2380) (76.3,2335) (77.5,2260) (78.6,2190) (79.3,2105) (79.8,1760) (80.3,1310) (81.3,1065) (82.5,820) (83.1,740) (84.9,660) (86.7,593)}
\pe{950}{(72.9,2260) (73.8,2320) (75.2,2360) (76.4,2330) (77.6,2265) (78.7,2195) (79.4,2110) (79.9,1770) (80.4,1318) (81.3,1075) (82.6,821) (83.1,757) (84.9,674) (86.7,602)}
\pe{975}{(73.0,2240) (73.9,2300) (75.3,2345) (76.5,2330) (77.7,2270) (78.8,2200) (79.5,2115) (80.0,1760) (80.5,1320) (81.4,1080) (82.6,830) (83.1,773) (84.9,687) (86.7,612)}
\pe{1000}{(73.1,2230) (74.0,2280) (75.4,2330) (76.7,2320) (78.3,2200) (79.1,2110) (79.8,1750) (80.5,1320) (81.4,1079) (82.6,840) (83.1,790) (84.9,701) (86.7,621)}
\pb{0}{v0}{\velband};
\pb{125}{v25}{\velband};
\pb{250}{v50}{\velband};
\pb{375}{v75}{\velband};
\pb{500}{v100}{\velband};
\pb{625}{v125}{\velband};
\pb{750}{v150}{\velband};
\pb{875}{v175}{\velband};
\pb{1000}{v200}{\velband};
\node[anchor=base west, inner sep=0pt, font=\rmfamily\fontsize{8}{10}\selectfont] at (rel axis cs:0.0206,0.896) {(b)};
\end{axis}
\node[rotate=90, anchor=center, font=\fontsize{11}{13}\selectfont] at (9pt,238pt) {Elevation (m a.s.l.)};
\node[rotate=90, anchor=center, font=\fontsize{11}{13}\selectfont] at (9pt,93.5pt) {Velocity (m/a)};
\end{tikzpicture}
\end{document}
